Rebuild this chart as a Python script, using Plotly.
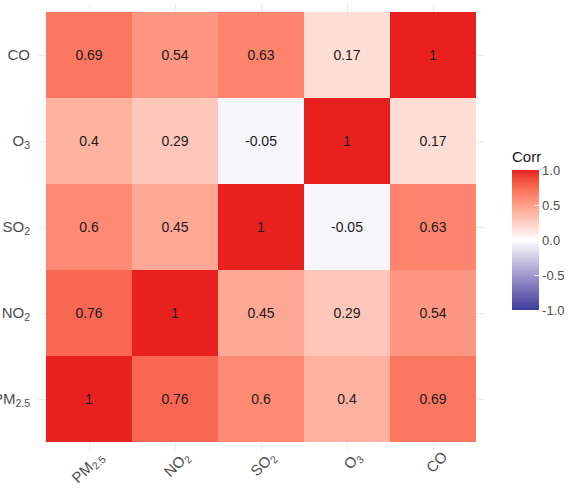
import plotly.graph_objects as go

# Pollutant correlation matrix (rows bottom-to-top, columns left-to-right)
pollutants = ["PM<sub>2.5</sub>", "NO<sub>2</sub>", "SO<sub>2</sub>", "O<sub>3</sub>", "CO"]
corr_pm25 = [1, 0.76, 0.6, 0.4, 0.69]
corr_no2 = [0.76, 1, 0.45, 0.29, 0.54]
corr_so2 = [0.6, 0.45, 1, -0.05, 0.63]
corr_o3 = [0.4, 0.29, -0.05, 1, 0.17]
corr_co = [0.69, 0.54, 0.63, 0.17, 1]
colorbar_ticks = [-1.0, -0.5, 0.0, 0.5, 1.0]

z = [corr_pm25, corr_no2, corr_so2, corr_o3, corr_co]
labels = [[f"{v:g}" for v in row] for row in z]


# --- diverging colour scale interpolated in CIE Lab (blue - white - red) ---
def _srgb_to_lin(c):
    c = c / 255
    return c / 12.92 if c <= 0.04045 else ((c + 0.055) / 1.055) ** 2.4


def _lin_to_srgb(c):
    c = max(0.0, min(1.0, c))
    v = 12.92 * c if c <= 0.0031308 else 1.055 * c ** (1 / 2.4) - 0.055
    return round(v * 255)


def hex_to_lab(h):
    r, g, b = (_srgb_to_lin(int(h[i:i + 2], 16)) for i in (1, 3, 5))
    x = (0.4124 * r + 0.3576 * g + 0.1805 * b) / 0.95047
    y = 0.2126 * r + 0.7152 * g + 0.0722 * b
    zz = (0.0193 * r + 0.1192 * g + 0.9505 * b) / 1.08883
    f = lambda t: t ** (1 / 3) if t > 0.008856 else 7.787 * t + 16 / 116
    fx, fy, fz = f(x), f(y), f(zz)
    return 116 * fy - 16, 500 * (fx - fy), 200 * (fy - fz)


def lab_to_hex(L, a, b):
    fy = (L + 16) / 116
    fx = fy + a / 500
    fz = fy - b / 200
    finv = lambda t: t ** 3 if t ** 3 > 0.008856 else (t - 16 / 116) / 7.787
    x, y, zz = finv(fx) * 0.95047, finv(fy), finv(fz) * 1.08883
    r = 3.2406 * x - 1.5372 * y - 0.4986 * zz
    g = -0.9689 * x + 1.8758 * y + 0.0415 * zz
    bl = 0.0557 * x - 0.2040 * y + 1.0570 * zz
    return "#{:02x}{:02x}{:02x}".format(_lin_to_srgb(r), _lin_to_srgb(g), _lin_to_srgb(bl))


low, mid, high = "#3a3c9c", "#ffffff", "#e8211f"
lab_low, lab_mid, lab_high = hex_to_lab(low), hex_to_lab(mid), hex_to_lab(high)
colorscale = []
steps = 10
for i in range(steps + 1):
    t = i / steps
    L = [lab_low[k] + (lab_mid[k] - lab_low[k]) * t for k in range(3)]
    colorscale.append([0.5 * t, lab_to_hex(*L)])
for i in range(1, steps + 1):
    t = i / steps
    L = [lab_mid[k] + (lab_high[k] - lab_mid[k]) * t for k in range(3)]
    colorscale.append([0.5 + 0.5 * t, lab_to_hex(*L)])

FONT = "Liberation Sans, Arial, sans-serif"

fig = go.Figure(
    go.Heatmap(
        z=z,
        x=pollutants,
        y=pollutants,
        text=labels,
        texttemplate="%{text}",
        textfont=dict(family=FONT, size=14, color="#1a1a1a"),
        colorscale=colorscale,
        zmin=-1,
        zmax=1,
        xgap=0,
        ygap=0,
        colorbar=dict(
            title=dict(text="Corr", side="top",
                       font=dict(family=FONT, size=15, color="#1a1a1a")),
            thickness=27,
            len=162,
            lenmode="pixels",
            x=1.0628,
            xanchor="left",
            xpad=0,
            y=0.677,
            yanchor="top",
            ypad=0,
            outlinewidth=0,
            tickvals=colorbar_ticks,
            ticktext=[f"{v:.1f}" for v in colorbar_ticks],
            ticks="inside",
            ticklen=5,
            tickcolor="rgba(255,255,255,0.8)",
            tickfont=dict(family=FONT, size=13, color="#4d4d4d"),
        ),
    )
)

pad = 8 / 86
axis_font = dict(family=FONT, size=15, color="#4d4d4d")
fig.update_xaxes(
    range=[-0.5 - pad, 4.5 + pad],
    showgrid=True,
    gridcolor="#ebebeb",
    gridwidth=1,
    zeroline=False,
    showline=False,
    tickangle=-45,
    tickfont=axis_font,
    ticks="",
    ticklabelshift=10,
    ticklabelstandoff=-6,
    automargin=False,
)
fig.update_yaxes(
    range=[-0.5 - pad, 4.5 + pad],
    showgrid=True,
    gridcolor="#ebebeb",
    gridwidth=1,
    zeroline=False,
    showline=False,
    tickfont=axis_font,
    ticks="outside",
    ticklen=4,
    tickcolor="rgba(0,0,0,0)",
    automargin=False,
)

fig.update_layout(
    width=571,
    height=492,
    margin=dict(l=38, r=87, t=4, b=42, autoexpand=False),
    paper_bgcolor="white",
    plot_bgcolor="white",
    showlegend=False,
)

fig.write_html("out.html")
